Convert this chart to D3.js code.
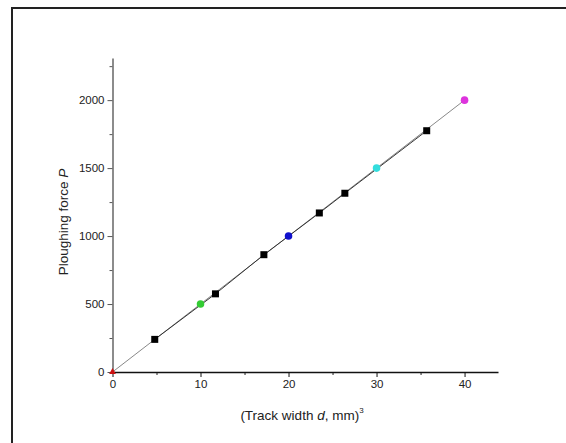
<!DOCTYPE html>
<html>
<head>
<meta charset="utf-8">
<script src="https://cdn.jsdelivr.net/npm/d3@7"></script>
<style>
  body { margin: 0; background: #fff; }
  svg text { font-family: "Liberation Sans", Arial, sans-serif; }
</style>
</head>
<body>
<div id="chart"></div>
<script>
// measured points (black squares)
const trackX = [4.8, 11.7, 17.2, 23.5, 26.4, 35.7];
const forceY = [240, 575, 863, 1170, 1315, 1775];

// reference points, one colour each
const refX = [0, 10, 20, 30, 40];
const refY = [0, 500, 1000, 1500, 2000];
const refColors = ['#cc1111', '#33cc33', '#1010cc', '#33dddd', '#dd33dd'];

const xTicks = [0, 10, 20, 30, 40];
const yTicks = [0, 500, 1000, 1500, 2000];

const W = 566, H = 443;
const margin = { top: 58, right: 68, bottom: 71, left: 112.5 };
const width = W - margin.left - margin.right;
const height = H - margin.top - margin.bottom;

const svg = d3.select('#chart').append('svg')
    .attr('width', W)
    .attr('height', H);

// outer frame
svg.append('rect')
    .attr('x', 12)
    .attr('y', 8)
    .attr('width', W + 20)
    .attr('height', H + 20)
    .attr('fill', 'none')
    .attr('stroke', '#222')
    .attr('stroke-width', 2);

const g = svg.append('g')
    .attr('transform', `translate(${margin.left}, ${margin.top})`);

const xScale = d3.scaleLinear().domain([0, 43.8]).range([0, width]);
const yScale = d3.scaleLinear().domain([0, 2310]).range([height, 0]);

// minor ticks
const xMinor = d3.range(5, 44, 10);
const yMinor = d3.range(250, 2300, 500);

g.append('g')
    .attr('transform', `translate(0, ${height})`)
    .call(d3.axisBottom(xScale).tickValues(xMinor).tickSize(3).tickFormat(''))
    .call(a => a.select('.domain').remove())
    .selectAll('line').attr('stroke', '#222');

g.append('g')
    .call(d3.axisLeft(yScale).tickValues(yMinor).tickSize(3).tickFormat(''))
    .call(a => a.select('.domain').remove())
    .selectAll('line').attr('stroke', '#555');

const xAxis = g.append('g')
    .attr('transform', `translate(0, ${height})`)
    .call(d3.axisBottom(xScale).tickValues(xTicks).tickFormat(d3.format('d'))
        .tickSize(5).tickSizeOuter(0).tickPadding(3));
xAxis.select('.domain').attr('stroke', '#111').attr('stroke-width', 1.5);
xAxis.selectAll('line').attr('stroke', '#111');
xAxis.selectAll('text').style('font-size', '11.5px').attr('fill', '#222');

const yAxis = g.append('g')
    .call(d3.axisLeft(yScale).tickValues(yTicks).tickFormat(d3.format('d'))
        .tickSize(5).tickSizeOuter(0).tickPadding(3));
yAxis.select('.domain').attr('stroke', '#666').attr('stroke-width', 1.5);
yAxis.selectAll('line').attr('stroke', '#555');
yAxis.selectAll('text').style('font-size', '11.5px').attr('fill', '#222');

// lines
const refPts = refX.map((x, i) => [x, refY[i]]);
const trackPts = trackX.map((x, i) => [x, forceY[i]]);
const line = d3.line().x(d => xScale(d[0])).y(d => yScale(d[1]));

g.append('path')
    .datum(refPts)
    .attr('fill', 'none')
    .attr('stroke', '#555')
    .attr('stroke-width', 0.7)
    .attr('d', line);

g.append('path')
    .datum(trackPts)
    .attr('fill', 'none')
    .attr('stroke', '#222')
    .attr('stroke-width', 0.9)
    .attr('d', line);

// squares
g.selectAll('.sq')
    .data(trackPts)
    .enter()
    .append('rect')
    .attr('class', 'sq')
    .attr('x', d => xScale(d[0]) - 3.5)
    .attr('y', d => yScale(d[1]) - 3.5)
    .attr('width', 7)
    .attr('height', 7)
    .attr('fill', '#000');

// coloured reference markers
const shapes = [d3.symbolTriangle, d3.symbolCircle, d3.symbolCircle, d3.symbolCircle, d3.symbolCircle];
g.selectAll('.ref')
    .data(refPts)
    .enter()
    .append('path')
    .attr('class', 'ref')
    .attr('transform', d => `translate(${xScale(d[0])}, ${yScale(d[1])})`)
    .attr('d', (d, i) => d3.symbol().type(shapes[i]).size(i === 0 ? 20 : 45)())
    .attr('fill', (d, i) => refColors[i]);

// axis titles
const xt = svg.append('text')
    .attr('x', 302)
    .attr('y', 420)
    .attr('text-anchor', 'middle')
    .style('font-size', '13.5px')
    .attr('fill', '#222');
xt.append('tspan').text('(Track width ');
xt.append('tspan').style('font-style', 'italic').text('d');
xt.append('tspan').text(', mm)');
xt.append('tspan').attr('dy', -7).style('font-size', '8px').text('3');

const yt = svg.append('text')
    .attr('transform', 'translate(68, 222) rotate(-90)')
    .attr('text-anchor', 'middle')
    .style('font-size', '13.5px')
    .attr('fill', '#222');
yt.append('tspan').text('Ploughing force ');
yt.append('tspan').style('font-style', 'italic').text('P');
</script>
</body>
</html>
